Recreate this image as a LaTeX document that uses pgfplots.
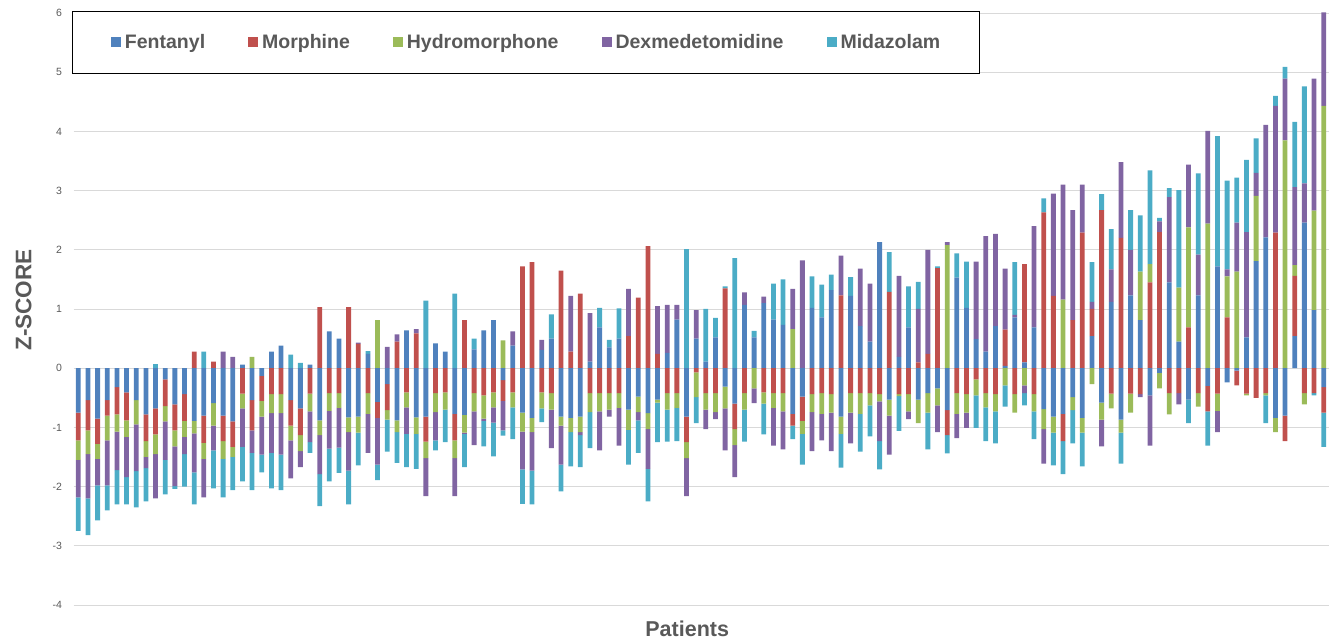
\documentclass[border=0pt]{standalone}
\usepackage{fontspec}
\setmainfont{Liberation Sans}
\usepackage{pgfplots}
\usepackage{pgfplotstable}
\pgfplotsset{compat=1.18}

\definecolor{fent}{HTML}{4F81BD}
\definecolor{morph}{HTML}{C0504D}
\definecolor{hydro}{HTML}{9BBB59}
\definecolor{dexm}{HTML}{8064A2}
\definecolor{mida}{HTML}{4BACC6}
\definecolor{gridc}{HTML}{D9D9D9}
\definecolor{labc}{HTML}{595959}

% z-scores per patient: f=Fentanyl m=Morphine h=Hydromorphone d=Dexmedetomidine z=Midazolam
\pgfplotstableread{
n f m h d z
1 -0.75 -0.47 -0.33 -0.63 -0.57
2 -0.54 -0.51 -0.40 -0.75 -0.62
3 -0.85 -0.43 -0.25 -0.45 -0.59
4 -0.54 -0.26 -0.42 -0.76 -0.42
5 -0.32 -0.46 -0.29 -0.65 -0.58
6 -0.41 -0.47 -0.28 -0.68 -0.46
7 -0.54 0 -0.41 -0.79 -0.61
8 -0.78 -0.45 -0.27 -0.19 -0.56
9 -0.68 -0.44 -0.33 -0.75 0.07
10 -0.19 -0.45 -0.26 -0.65 -0.58
11 -0.61 -0.44 -0.27 -0.67 -0.05
12 -0.44 -0.45 -0.27 -0.29 -0.55
13 -0.89 0.28 -0.21 -0.66 -0.54
14 -0.80 -0.46 -0.27 -0.65 0.28
15 -0.59 0.11 -0.38 -0.42 -0.64
16 -0.80 -0.43 -0.30 0.28 -0.65
17 -0.90 -0.43 -0.17 0.19 -0.56
18 0.06 -0.43 -0.25 -0.65 -0.58
19 -0.54 -0.51 0.19 -0.38 -0.63
20 -0.13 -0.42 -0.27 -0.64 -0.30
21 0.28 -0.44 -0.32 -0.67 -0.60
22 0.38 -0.44 -0.32 -0.70 -0.60
23 -0.54 -0.43 -0.25 -0.64 0.23
24 -0.68 -0.45 -0.27 -0.27 0.09
25 0.06 -0.43 -0.30 -0.52 -0.18
26 -0.88 1.03 -0.25 -0.66 -0.54
27 0.62 -0.42 -0.30 -0.64 -0.55
28 0.50 -0.42 -0.25 -0.67 -0.43
29 -0.83 1.03 -0.25 -0.65 -0.57
30 -0.82 0.41 -0.27 0.02 -0.55
31 0.24 -0.42 -0.35 -0.66 0.05
32 -0.57 -0.27 0.81 -0.79 -0.26
33 -0.27 -0.44 -0.16 0.36 -0.54
34 -0.88 0.45 -0.20 0.12 -0.52
35 0.64 -0.41 -0.25 -0.45 -0.56
36 -0.83 0.59 -0.28 0.07 -0.59
37 -0.82 -0.42 -0.28 -0.64 1.14
38 0.42 -0.42 -0.32 -0.48 -0.17
39 0.28 -0.41 -0.29 0 -0.55
40 -0.77 -0.45 -0.30 -0.64 1.26
41 -0.79 0.81 -0.30 -0.02 -0.56
42 0.32 -0.42 -0.31 -0.57 0.18
43 0.64 -0.46 -0.39 -0.04 -0.43
44 0.81 -0.41 -0.25 -0.26 -0.57
45 -0.20 -0.35 0.47 -0.50 -0.09
46 0.38 -0.41 -0.25 0.24 -0.54
47 -0.75 1.72 -0.32 -0.64 -0.58
48 -0.84 1.79 -0.24 -0.65 -0.57
49 0.31 -0.41 -0.27 0.17 -0.23
50 0.50 -0.42 -0.28 -0.65 0.41
51 -0.82 1.65 -0.15 -0.66 -0.45
52 -0.84 0.28 -0.24 0.94 -0.58
53 -0.82 1.26 -0.26 -0.05 -0.54
54 0.11 -0.42 -0.32 0.82 -0.61
55 0.69 -0.42 -0.31 -0.66 0.33
56 0.35 -0.42 -0.28 -0.12 0.13
57 0.50 -0.42 -0.25 -0.64 0.51
58 -0.70 0.54 -0.34 0.80 -0.59
59 -0.48 1.19 -0.26 -0.14 -0.55
60 -0.76 2.06 -0.27 -0.67 -0.55
61 -0.53 0.24 -0.05 0.81 -0.67
62 0.26 -0.42 -0.28 0.81 -0.54
63 0.82 -0.42 -0.25 0.25 -0.56
64 -0.82 -0.43 -0.27 -0.64 2.01
65 0.50 -0.07 -0.42 0.48 -0.44
66 0.11 -0.42 -0.28 -0.33 0.89
67 0.52 -0.42 -0.32 -0.12 0.33
68 -0.31 1.35 -0.37 -0.71 0.03
69 -0.60 -0.43 -0.27 -0.54 1.86
70 1.07 -0.42 -0.28 0.21 -0.54
71 0.52 0 -0.34 -0.25 0.11
72 1.10 -0.41 -0.19 0.11 -0.52
73 0.82 -0.42 -0.25 -0.64 0.61
74 0.73 -0.42 -0.31 -0.64 0.77
75 -0.77 -0.20 0.66 0.68 -0.23
76 -0.48 -0.41 -0.22 1.82 -0.52
77 1.02 -0.44 -0.30 -0.66 0.53
78 0.86 -0.42 -0.35 -0.45 0.55
79 1.32 -0.44 -0.31 -0.65 0.26
80 -0.82 1.23 -0.29 0.67 -0.57
81 1.22 -0.42 -0.33 -0.52 0.32
82 0.71 -0.42 -0.35 0.97 -0.64
83 0.45 -0.42 -0.21 0.98 -0.52
84 2.13 -0.44 -0.12 -0.67 -0.48
85 -0.53 1.29 -0.27 -0.66 0.67
86 0.19 -0.44 -0.03 1.37 -0.59
87 0.69 -0.44 -0.29 -0.13 0.69
88 -0.53 0.10 -0.40 0.90 0.46
89 -0.42 0.24 -0.33 1.76 -0.62
90 -0.34 1.69 -0.29 -0.45 0.03
91 -0.71 -0.42 2.08 0.05 -0.31
92 1.53 -0.42 -0.35 -0.41 0.41
93 1.02 -0.44 -0.31 -0.26 0.78
94 0.49 -0.19 -0.27 1.31 -0.55
95 0.28 -0.42 -0.24 1.95 -0.57
96 0.71 -0.44 -0.29 1.56 -0.54
97 0.04 0.61 -0.29 1.03 -0.36
98 0.86 -0.44 -0.31 0.04 0.89
99 0.10 1.66 -0.29 -0.13 -0.21
100 0.69 -0.44 -0.29 1.71 -0.47
101 -0.69 2.63 -0.34 -0.58 0.24
102 -0.82 1.22 -0.27 1.73 -0.55
103 -0.77 -0.46 1.16 1.94 -0.56
104 -0.49 0.81 -0.22 1.86 -0.56
105 -0.84 2.29 -0.25 0.81 -0.57
106 0.54 0.46 -0.27 0.12 0.67
107 -0.58 2.67 -0.29 -0.45 0.27
108 1.12 -0.43 -0.25 0.55 0.68
109 -0.87 2.20 -0.22 1.28 -0.52
110 1.23 -0.43 -0.32 0.77 0.67
111 0.81 -0.44 0.82 -0.05 0.95
112 -0.46 1.45 0.31 -0.85 1.58
113 -0.08 2.30 -0.26 0.18 0.06
114 1.45 -0.42 -0.36 1.44 0.15
115 0.45 -0.42 0.91 -0.19 1.65
116 -0.53 0.69 1.69 1.06 -0.40
117 1.23 -0.42 -0.23 0.69 1.37
118 -0.30 -0.43 2.44 1.57 -0.58
119 1.72 -0.43 -0.29 -0.36 2.20
120 -0.24 0.86 0.69 0.12 1.50
121 -0.04 -0.25 1.63 0.83 0.76
122 0.52 -0.43 -0.03 1.78 1.22
123 1.81 -0.50 1.10 0.39 0.58
124 2.21 -0.42 -0.04 1.90 -0.47
125 -0.84 2.29 -0.24 2.14 0.17
126 -0.80 -0.43 3.85 1.04 0.20
127 0.54 1.02 0.18 1.32 1.10
128 2.46 -0.42 -0.19 0.66 1.64
129 0.98 -0.42 1.68 2.23 -0.04
130 -0.32 -0.43 4.43 1.58 -0.58
}\zdata

\pgfplotsset{
  zbase/.style={
    scale only axis, width=1255pt, height=592pt,
    at={(73.5pt,34pt)}, anchor=south west,
    xmin=0.5, xmax=130.5, ymin=-4, ymax=6,
    ybar stacked, bar width=4.8pt, xtick=\empty,
  },
}

\begin{document}
\begin{tikzpicture}
\path[use as bounding box] (0,0) rectangle (1336pt,639pt);

% positive parts stack upward from zero
\begin{axis}[zbase,
  axis line style={draw=none}, tick style={draw=none},
  ytick={-4,...,6}, ymajorgrids,
  grid style={draw=gridc, line width=0.75pt},
  /pgf/number format/assume math mode=true,
  yticklabel style={font=\fontsize{10.5}{12}\selectfont, text=labc, xshift=-8pt},
  xlabel={Patients},
  xlabel style={at={(axis description cs:0.489,-0.0405)}, anchor=center,
    font=\fontsize{21.5}{24}\selectfont\bfseries, text=labc},
  ylabel={Z-SCORE},
  ylabel style={at={(axis description cs:-0.0398,0.515)}, anchor=center,
    font=\fontsize{22.5}{25}\selectfont\bfseries, text=labc},
  legend columns=5,
  legend image code/.code={\fill[#1] (0pt,-5pt) rectangle (10pt,5pt);},
  legend style={at={(-0.0012,1.0034)}, anchor=north west,
    draw=black, line width=1pt, inner xsep=38.5pt, inner ysep=22pt,
    font=\fontsize{19.5}{22}\selectfont\bfseries, text=labc,
    nodes={inner sep=1pt},
    /tikz/every odd column/.append style={column sep=3pt},
    /tikz/every even column/.append style={column sep=42pt}},
]
\addplot[fill=fent, draw=none] table[x=n, y expr={max(\thisrow{f},0)}] {\zdata};
\addplot[fill=morph, draw=none] table[x=n, y expr={max(\thisrow{m},0)}] {\zdata};
\addplot[fill=hydro, draw=none] table[x=n, y expr={max(\thisrow{h},0)}] {\zdata};
\addplot[fill=dexm, draw=none] table[x=n, y expr={max(\thisrow{d},0)}] {\zdata};
\addplot[fill=mida, draw=none] table[x=n, y expr={max(\thisrow{z},0)}] {\zdata};
\legend{Fentanyl, Morphine, Hydromorphone, Dexmedetomidine, Midazolam}
\end{axis}

% negative parts stack downward from zero
\begin{axis}[zbase, hide axis]
\addplot[fill=fent, draw=none] table[x=n, y expr={min(\thisrow{f},0)}] {\zdata};
\addplot[fill=morph, draw=none] table[x=n, y expr={min(\thisrow{m},0)}] {\zdata};
\addplot[fill=hydro, draw=none] table[x=n, y expr={min(\thisrow{h},0)}] {\zdata};
\addplot[fill=dexm, draw=none] table[x=n, y expr={min(\thisrow{d},0)}] {\zdata};
\addplot[fill=mida, draw=none] table[x=n, y expr={min(\thisrow{z},0)}] {\zdata};
\end{axis}
\end{tikzpicture}
\end{document}
